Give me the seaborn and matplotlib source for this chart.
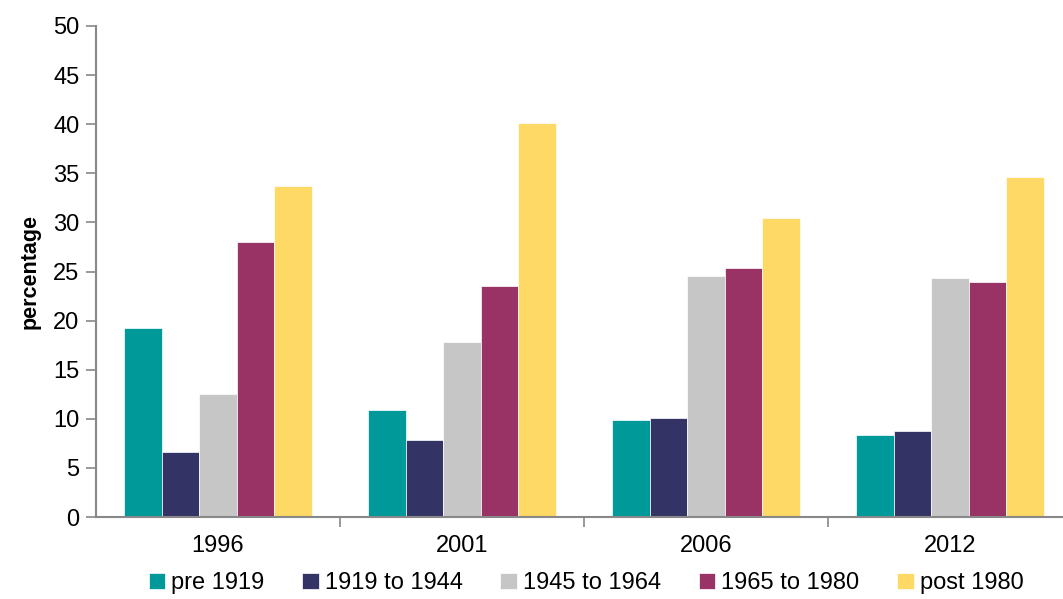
import matplotlib
matplotlib.use("Agg")
import matplotlib.pyplot as plt
import seaborn as sns
import pandas as pd
import numpy as np

years = ["1996", "2001", "2006", "2012"]
periods = ["pre 1919", "1919 to 1944", "1945 to 1964", "1965 to 1980", "post 1980"]
pre_1919 = [19.2, 10.9, 9.9, 8.4]
y1919_1944 = [6.6, 7.8, 10.1, 8.8]
y1945_1964 = [12.5, 17.8, 24.5, 24.3]
y1965_1980 = [28.0, 23.5, 25.4, 23.9]
post_1980 = [33.7, 40.1, 30.4, 34.6]
colors = ["#009999", "#333366", "#C6C6C6", "#993366", "#FFD966"]

series = [pre_1919, y1919_1944, y1945_1964, y1965_1980, post_1980]
rows = []
for p, vals in zip(periods, series):
    for y, v in zip(years, vals):
        rows.append({"year": y, "period": p, "value": v})
df = pd.DataFrame(rows)

sns.set_style("white")
plt.rcParams["font.family"] = ["Liberation Sans", "DejaVu Sans"]
plt.rcParams["text.color"] = "black"
plt.rcParams["xtick.color"] = "black"
plt.rcParams["ytick.color"] = "black"
plt.rcParams["axes.labelcolor"] = "black"

fig = plt.figure(figsize=(10.63, 5.99), dpi=100)
ax = fig.add_axes([96/1063, 1-517/599, 976/1063, (517-26)/599])
sns.barplot(data=df, x="year", y="value", hue="period", order=years,
            hue_order=periods, palette=colors, width=0.77, saturation=1,
            edgecolor="white", linewidth=0.5, ax=ax)

ax.set_xlim(-0.5, 3.5)
ax.set_ylim(0, 50)
ax.set_yticks(np.arange(0, 51, 5))
ax.set_xlabel("")
ax.set_ylabel("percentage", fontsize=15.5, fontweight="bold", labelpad=9)
for s in ["top", "right"]:
    ax.spines[s].set_visible(False)
for s in ["left", "bottom"]:
    ax.spines[s].set_color("#888888")
    ax.spines[s].set_linewidth(1.5)
ax.tick_params(axis="y", which="major", direction="out", length=7, width=1.2,
               color="#888888", labelcolor="black", labelsize=17, pad=5, left=True)
ax.tick_params(axis="x", which="major", length=0, labelsize=17, pad=13,
               labelcolor="black")
ax.set_xticks([0.5, 1.5, 2.5], minor=True)
ax.tick_params(axis="x", which="minor", direction="out", length=7, width=1.2,
               color="#888888", bottom=True)

leg = ax.legend(loc="upper center", bbox_to_anchor=(490/976, -0.093), ncol=5,
                frameon=False, fontsize=17, handlelength=0.7, handleheight=0.7,
                handletextpad=0.25, columnspacing=1.6, borderaxespad=0)
fig.savefig("out.png", dpi=100)
